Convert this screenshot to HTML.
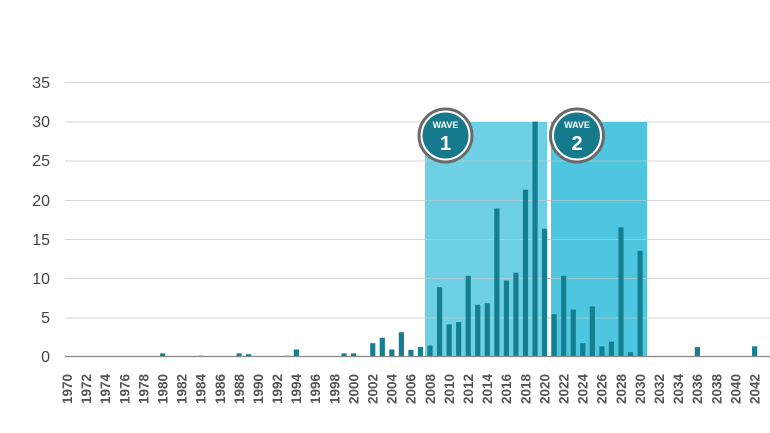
<!DOCTYPE html>
<html><head><meta charset="utf-8"><style>
html,body{margin:0;padding:0;background:#fff;width:770px;height:433px;overflow:hidden}
svg{display:block;font-family:"Liberation Sans",sans-serif}
</style></head><body>
<svg width="770" height="433" viewBox="0 0 770 433" xmlns="http://www.w3.org/2000/svg">
<g stroke="#d4d4d4" stroke-width="1">
<line x1="65" x2="770" y1="82.5" y2="82.5"/><line x1="65" x2="770" y1="122" y2="122"/>
<line x1="65" x2="770" y1="161" y2="161"/><line x1="65" x2="770" y1="200.5" y2="200.5"/>
<line x1="65" x2="770" y1="239.5" y2="239.5"/><line x1="65" x2="770" y1="278.5" y2="278.5"/>
<line x1="65" x2="770" y1="318" y2="318"/>
</g>
<g font-size="16" fill="#444" text-anchor="end">
<text x="50" y="88">35</text><text x="50" y="127">30</text><text x="50" y="166">25</text>
<text x="50" y="206">20</text><text x="50" y="245">15</text><text x="50" y="284">10</text>
<text x="50" y="323">5</text><text x="50" y="362">0</text>
</g>
<text transform="translate(-2,215) rotate(-90)" font-size="14" fill="#555" text-anchor="middle" letter-spacing="1">BILLIONS</text>
<rect x="425" y="122" width="122" height="235" fill="#6dd0e4"/>
<rect x="551" y="122" width="96" height="235" fill="#4fc6df"/>
<g stroke="#c9c9c9" stroke-width="1" opacity="0.6">
<line x1="425" x2="647" y1="161" y2="161"/><line x1="425" x2="647" y1="200.5" y2="200.5"/>
<line x1="425" x2="647" y1="239.5" y2="239.5"/><line x1="425" x2="647" y1="278.5" y2="278.5"/>
<line x1="425" x2="647" y1="318" y2="318"/>
</g>
<g id="bars" fill="#137f91"></g>
<line x1="65" x2="770" y1="356.5" y2="356.5" stroke="#888" stroke-width="1.2"/>
<g id="labels" font-size="13.5" font-weight="bold" fill="#555"></g>
<g>
<circle cx="445.5" cy="135.5" r="26.5" fill="#fff" stroke="#6a6a6a" stroke-width="3"/>
<circle cx="445.5" cy="135.5" r="23" fill="#17798c"/>
<text x="445.5" y="128" font-size="9" font-weight="bold" fill="#fff" text-anchor="middle">WAVE</text>
<text x="445.5" y="150" font-size="20" font-weight="bold" fill="#fff" text-anchor="middle">1</text>
<circle cx="577" cy="135.5" r="26.5" fill="#fff" stroke="#6a6a6a" stroke-width="3"/>
<circle cx="577" cy="135.5" r="23" fill="#17798c"/>
<text x="577" y="128" font-size="9" font-weight="bold" fill="#fff" text-anchor="middle">WAVE</text>
<text x="577" y="150" font-size="20" font-weight="bold" fill="#fff" text-anchor="middle">2</text>
</g>
</svg>
<script>
var v={1980:.4,1984:.1,1988:.4,1989:.3,1993:.1,1994:.9,1999:.4,2000:.4,2002:1.7,2003:2.4,2004:.9,2005:3.1,2006:.85,2007:1.2,2008:1.4,2009:8.85,2010:4.1,2011:4.4,2012:10.3,2013:6.6,2014:6.8,2015:18.9,2016:9.7,2017:10.7,2018:21.3,2019:30,2020:16.3,2021:5.4,2022:10.3,2023:6,2024:1.7,2025:6.4,2026:1.3,2027:1.9,2028:16.5,2029:.55,2030:13.5,2036:1.2,2042:1.3};
var ns="http://www.w3.org/2000/svg",b=document.getElementById("bars"),l=document.getElementById("labels");
function X(y){return 67.2+(y-1970)*9.548;}
for(var y in v){var h=v[y]*7.83,r=document.createElementNS(ns,"rect");r.setAttribute("x",X(+y)-2.6);r.setAttribute("width",5.2);r.setAttribute("y",356.5-h);r.setAttribute("height",h);b.appendChild(r);}
for(var y=1970;y<=2042;y+=2){var t=document.createElementNS(ns,"text");t.setAttribute("transform","translate("+(X(y)+4.8)+",404) rotate(-90)");t.textContent=y;l.appendChild(t);}
</script>
</body></html>
